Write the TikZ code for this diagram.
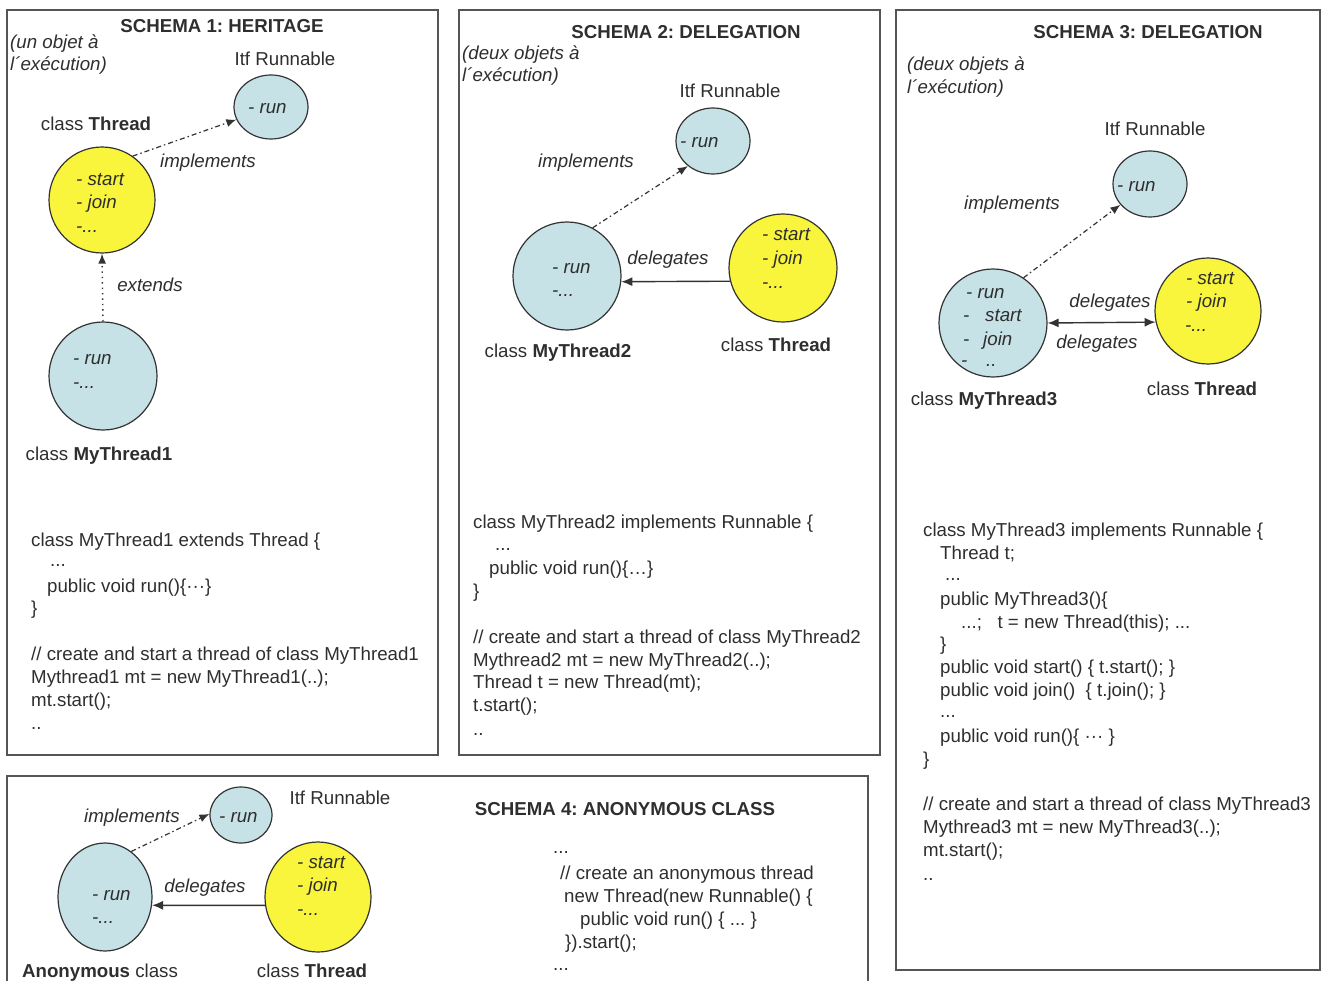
\documentclass[tikz,border=0pt]{standalone}
\usepackage{fontspec}
\setmainfont{Liberation Sans}
\usetikzlibrary{shapes.geometric,arrows.meta}
\frenchspacing
\definecolor{txt}{HTML}{2E2E2E}
\definecolor{bluef}{HTML}{C7E2E6}
\definecolor{yelf}{HTML}{F9F53C}
\definecolor{boxc}{HTML}{555555}
\definecolor{edge}{HTML}{333333}
\tikzset{
  tx/.style={anchor=base, inner sep=0pt, text=txt, font=\fontsize{18.7}{22}\selectfont},
  lx/.style={anchor=base west, inner sep=0pt, text=txt, font=\fontsize{18.7}{22}\selectfont},
  ix/.style={lx, font=\fontsize{18.7}{22}\selectfont\itshape},
  itc/.style={tx, font=\fontsize{18.7}{22}\selectfont\itshape},
  ttl/.style={tx, font=\fontsize{18.7}{22}\selectfont\bfseries},
  panel/.style={draw=boxc, line width=1.5pt},
  bcirc/.style={ellipse, draw=edge, line width=1.2pt, fill=bluef, inner sep=0pt},
  ycirc/.style={ellipse, draw=edge, line width=1.2pt, fill=yelf, inner sep=0pt},
  impl/.style={draw=edge, line width=1.2pt, dash pattern=on 5pt off 3pt on 1.5pt off 3pt, -{Latex[length=10pt,width=8pt]}},
  extd/.style={draw=edge, line width=1.4pt, dash pattern=on 1.4pt off 4pt, -{Latex[length=10pt,width=8pt]}},
  dlg/.style={draw=edge, line width=1.4pt, -{Latex[length=11pt,width=9pt]}},
  dlgb/.style={draw=edge, line width=1.4pt, {Latex[length=11pt,width=9pt]}-{Latex[length=11pt,width=9pt]}},
}
\begin{document}
\begin{tikzpicture}[x=1pt,y=-1pt]
\useasboundingbox (0,0) rectangle (1324,981);
% panels
\draw[panel] (7,10) rectangle (438,755);
\draw[panel] (459,10) rectangle (880,755);
\draw[panel] (896,10) rectangle (1320,970);
\draw[panel] (7,995) -- (7,776) -- (868,776) -- (868,995);

% ================= PANEL 1 =================
\node[ttl] (t1) at (222,33) {SCHEMA 1: HERITAGE};
\node[ix] (p1a) at (10,49) {(un objet à};
\node[ix] (p1b) at (10,71) {l´exécution)};
\node[tx] (p1itf) at (285,66) {Itf Runnable};
\node[bcirc, minimum width=74pt, minimum height=64pt] (run1) at (271,107) {};
\node[ix] (run1t) at (248,114) {- run};
\node[tx] (p1th) at (96,131) {class \textbf{Thread}};
\node[ycirc, minimum width=106pt, minimum height=106pt] (th1) at (102,200) {};
\node[ix] (th1a) at (76,186) {- start};
\node[ix] (th1b) at (76,209) {- join};
\node[ix] (th1c) at (76,233) {-...};
\node[bcirc, minimum width=108pt, minimum height=108pt] (mt1) at (103,376) {};
\node[ix] (mt1a) at (73,364) {- run};
\node[ix] (mt1b) at (73,388) {-...};
\node[tx] (p1mt) at (99,460) {class \textbf{MyThread1}};
\draw[impl] (th1.55) -- (run1.200);
\node[itc] (impl1) at (208,168) {implements};
\draw[extd] (mt1.north) -- (th1.south);
\node[itc] (ext1) at (150,292) {extends};
% code 1
\node[lx] (c1a) at (31,546) {class MyThread1 extends Thread \{};
\node[lx] (c1b) at (50,566) {...};
\node[lx] (c1c) at (47,592) {public void run()\{···\}};
\node[lx] (c1d) at (31,614) {\}};
\node[lx] (c1e) at (31,660) {// create and start a thread of class MyThread1};
\node[lx] (c1f) at (31,683) {Mythread1 mt = new MyThread1(..);};
\node[lx] (c1g) at (31,706) {mt.start();};
\node[lx] (c1h) at (31,729) {..};

% ================= PANEL 2 =================
\node[ttl] (t2) at (686,39) {SCHEMA 2: DELEGATION};
\node[ix] (p2a) at (462,60) {(deux objets à};
\node[ix] (p2b) at (462,82) {l´exécution)};
\node[tx] (p2itf) at (730,98) {Itf Runnable};
\node[bcirc, minimum width=74pt, minimum height=66pt] (run2) at (713,141) {};
\node[ix] (run2t) at (680,148) {- run};
\node[itc] (impl2) at (586,168) {implements};
\node[bcirc, minimum width=108pt, minimum height=108pt] (mt2) at (567,276) {};
\node[ix] (mt2a) at (552,274) {- run};
\node[ix] (mt2b) at (552,297) {-...};
\node[tx] (p2mt) at (558,357) {class \textbf{MyThread2}};
\node[ycirc, minimum width=108pt, minimum height=108pt] (th2) at (783,268) {};
\node[ix] (th2a) at (762,241) {- start};
\node[ix] (th2b) at (762,265) {- join};
\node[ix] (th2c) at (762,289) {-...};
\node[tx] (p2th) at (776,351) {class \textbf{Thread}};
\draw[impl] (mt2.62) -- (run2.225);
\draw[dlg] (th2.194) -- (mt2.-6);
\node[itc] (dlg2) at (668,265) {delegates};
% code 2
\node[lx] (c2a) at (473,528) {class MyThread2 implements Runnable \{};
\node[lx] (c2b) at (495,550) {...};
\node[lx] (c2c) at (489,574) {public void run()\{…\}};
\node[lx] (c2d) at (473,597) {\}};
\node[lx] (c2e) at (473,643) {// create and start a thread of class MyThread2};
\node[lx] (c2f) at (473,666) {Mythread2 mt = new MyThread2(..);};
\node[lx] (c2g) at (473,688) {Thread t = new Thread(mt);};
\node[lx] (c2h) at (473,711) {t.start();};
\node[lx] (c2i) at (473,735) {..};

% ================= PANEL 3 =================
\node[ttl] (t3) at (1148,39) {SCHEMA 3: DELEGATION};
\node[ix] (p3a) at (907,71) {(deux objets à};
\node[ix] (p3b) at (907,94) {l´exécution)};
\node[tx] (p3itf) at (1155,136) {Itf Runnable};
\node[bcirc, minimum width=74pt, minimum height=66pt] (run3) at (1150,184) {};
\node[ix] (run3t) at (1117,192) {- run};
\node[itc] (impl3) at (1012,210) {implements};
\node[bcirc, minimum width=108pt, minimum height=108pt] (mt3) at (993,323) {};
\node[ix] (mt3a) at (966,299) {- run};
\node[ix] (mt3b) at (963,322) {-};
\node[ix] (mt3c) at (985,322) {start};
\node[ix] (mt3d) at (963,345) {-};
\node[ix] (mt3e) at (983,345) {join};
\node[ix] (mt3f) at (961,366) {-};
\node[ix] (mt3g) at (986,366) {..};
\node[tx] (p3mt) at (984,405) {class \textbf{MyThread3}};
\node[ycirc, minimum width=106pt, minimum height=106pt] (th3) at (1208,311) {};
\node[ix] (th3a) at (1186,285) {- start};
\node[ix] (th3b) at (1186,308) {- join};
\node[ix] (th3c) at (1185,331) {-...};
\node[tx] (p3th) at (1202,395) {class \textbf{Thread}};
\draw[impl] (mt3.56) -- (run3.215);
\draw[dlgb] (mt3.east) -- (th3.192);
\node[itc] (dlg3a) at (1110,308) {delegates};
\node[itc] (dlg3b) at (1097,348) {delegates};
% code 3
\node[lx] (c3a) at (923,536) {class MyThread3 implements Runnable \{};
\node[lx] (c3b) at (940,559) {Thread t;};
\node[lx] (c3c) at (945,580) {...};
\node[lx] (c3d) at (940,605) {public MyThread3()\{};
\node[lx] (c3e) at (961,628) {...;\ \ \ t = new Thread(this); ...};
\node[lx] (c3f) at (940,650) {\}};
\node[lx] (c3g) at (940,673) {public void start() \{ t.start(); \}};
\node[lx] (c3h) at (940,696) {public void join()\ \ \{ t.join(); \}};
\node[lx] (c3i) at (940,717) {...};
\node[lx] (c3j) at (940,742) {public void run()\{ ··· \}};
\node[lx] (c3k) at (923,765) {\}};
\node[lx] (c3l) at (923,810) {// create and start a thread of class MyThread3};
\node[lx] (c3m) at (923,833) {Mythread3 mt = new MyThread3(..);};
\node[lx] (c3n) at (923,856) {mt.start();};
\node[lx] (c3o) at (923,880) {..};

% ================= PANEL 4 =================
\node[bcirc, minimum width=62pt, minimum height=56pt] (run4) at (241,815) {};
\node[ix] (run4t) at (219,822) {- run};
\node[tx] (p4itf) at (340,804) {Itf Runnable};
\node[itc] (impl4) at (132,822) {implements};
\node[bcirc, minimum width=94pt, minimum height=108pt] (anon) at (105,897) {};
\node[ix] (anona) at (92,900) {- run};
\node[ix] (anonb) at (92,923) {-...};
\node[ycirc, minimum width=106pt, minimum height=110pt] (th4) at (318,897) {};
\node[ix] (th4a) at (297,868) {- start};
\node[ix] (th4b) at (297,891) {- join};
\node[ix] (th4c) at (297,915) {-...};
\draw[impl] (anon.60) -- (run4.178);
\draw[dlg] (th4.189) -- (anon.-10);
\node[itc] (dlg4) at (205,892) {delegates};
\node[tx] (p4an) at (100,977) {\textbf{Anonymous} class};
\node[tx] (p4th) at (312,977) {class \textbf{Thread}};
\node[ttl] (t4) at (625,815) {SCHEMA 4: ANONYMOUS CLASS};
\node[lx] (c4a) at (553,853) {...};
\node[lx] (c4b) at (560,879) {// create an anonymous thread};
\node[lx] (c4c) at (564,902) {new Thread(new Runnable() \{};
\node[lx] (c4d) at (580,925) {public void run() \{ ... \}};
\node[lx] (c4e) at (565,948) {\}).start();};
\node[lx] (c4f) at (553,970) {...};
\end{tikzpicture}
\end{document}
